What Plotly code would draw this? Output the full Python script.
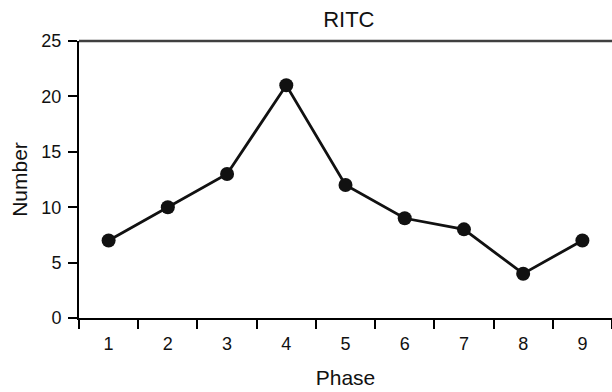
import plotly.graph_objects as go

phases = ["1", "2", "3", "4", "5", "6", "7", "8", "9"]
numbers = [7, 10, 13, 21, 12, 9, 8, 4, 7]
y_ticks = [0, 5, 10, 15, 20, 25]

FONT = "Liberation Sans, Arial, Helvetica, sans-serif"

fig = go.Figure()
fig.add_trace(go.Scatter(
    x=phases, y=numbers, mode="lines+markers",
    line=dict(color="#111111", width=2.8),
    marker=dict(color="#111111", size=14),
    showlegend=False, cliponaxis=False,
))

fig.update_layout(
    width=612, height=392,
    margin=dict(l=79, r=0, t=41, b=74),
    paper_bgcolor="white", plot_bgcolor="white",
    font=dict(family=FONT, color="#111111", size=18),
    title=dict(text="RITC", x=0.57, xanchor="center", y=0.952, yanchor="middle",
               font=dict(size=22, family=FONT, color="#111111")),
    xaxis=dict(
        type="category", tickson="boundaries", range=[-0.5, 8.5],
        showline=True, linecolor="black", linewidth=2,
        ticks="outside", ticklen=9, tickwidth=2, tickcolor="black",
        ticklabelstandoff=8,
        showgrid=False, zeroline=False,
        tickfont=dict(size=18),
        title=dict(text="Phase", font=dict(size=21), standoff=18),
    ),
    yaxis=dict(
        range=[0, 25], tickvals=y_ticks,
        showline=True, linecolor="black", linewidth=2,
        ticks="outside", ticklen=9, tickwidth=2, tickcolor="black",
        ticklabelstandoff=3,
        showgrid=False, zeroline=False,
        tickfont=dict(size=18),
        title=dict(text="Number", font=dict(size=21), standoff=8),
    ),
    shapes=[dict(type="line", xref="paper", yref="paper", x0=0, x1=1, y0=1, y1=1,
                 line=dict(color="#404040", width=2.5))],
)

fig.write_html("out.html")
